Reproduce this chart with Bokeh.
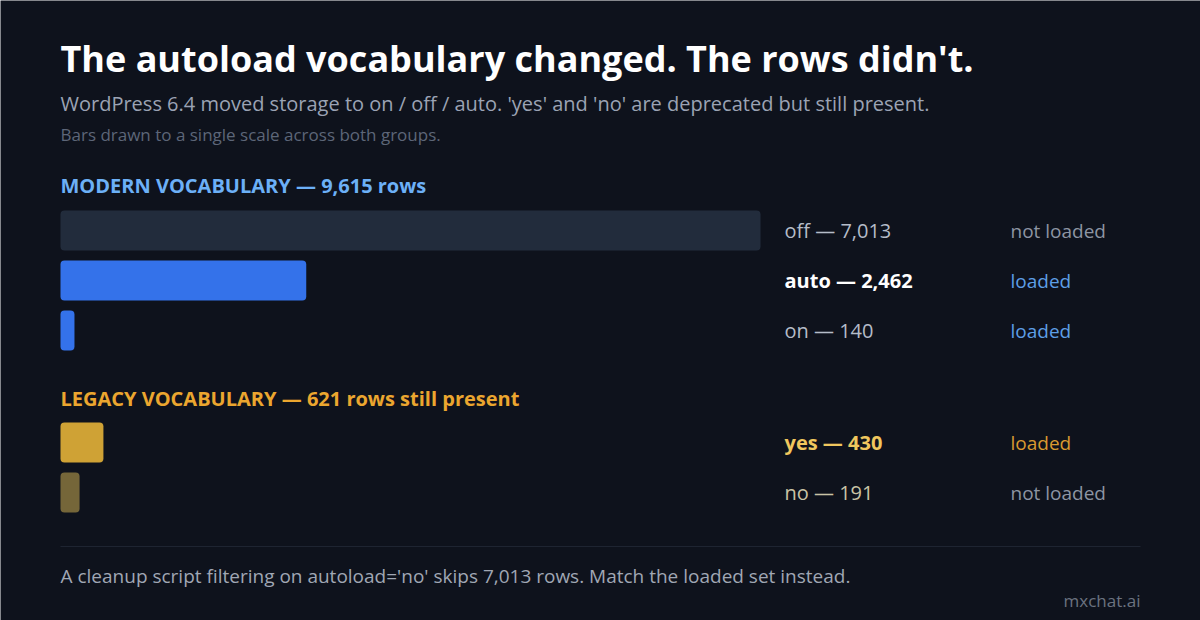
from bokeh.plotting import figure
from bokeh.models import Range1d, ColumnDataSource
from bokeh.core.properties import value
from bokeh.embed import file_html
from bokeh.resources import INLINE

# data
modern_keys = ["off", "auto", "on"]
modern_rows = [7013, 2462, 140]
modern_status = ["not loaded", "loaded", "loaded"]
legacy_keys = ["yes", "no"]
legacy_rows = [430, 191]
legacy_status = ["loaded", "not loaded"]

title = "The autoload vocabulary changed. The rows didn't."
subtitle = "WordPress 6.4 moved storage to on / off / auto. 'yes' and 'no' are deprecated but still present."
note = "Bars drawn to a single scale across both groups."
footer = "A cleanup script filtering on autoload='no' skips 7,013 rows. Match the loaded set instead."
credit = "mxchat.ai"

FONT = "Open Sans"
BG = "#0e121c"

W, H = 1200, 620
p = figure(width=W, height=H, output_backend="svg", toolbar_location=None,
           x_range=Range1d(0, W), y_range=Range1d(H, 0),
           min_border=0, border_fill_color=BG, background_fill_color=BG,
           outline_line_color=None)
p.axis.visible = False
p.grid.visible = False

# bar scale: 0 rows at px 60, max rows at px 760
bar_left, bar_right = 60, 760
vmax = max(modern_rows + legacy_rows)
k = (bar_right - bar_left) / vmax
p.extra_x_ranges = {"rows": Range1d(-bar_left / k, (W - bar_left) / k)}


def txt(x, y, s, size, color, bold=False, align="left"):
    p.text(x=[x], y=[y], text=[s], text_font=value(FONT), text_font_size=f"{size}px",
           text_color=color, text_font_style="bold" if bold else "normal",
           text_align=align, text_baseline="middle")


txt(60, 58, title, 36, "#ffffff", bold=True)
txt(60, 103, subtitle, 20, "#9ba3b4")
txt(60, 133.5, note, 17, "#5d6678")


def group(header, header_color, y_head, keys, rows, status, bar_colors,
          label_colors, label_bold, status_colors, y0):
    txt(60, y_head, header, 20, header_color, bold=True)
    ys = [y0 + 50 * i for i in range(len(keys))]
    src = ColumnDataSource(dict(y=ys, right=rows, color=bar_colors))
    p.hbar(y="y", left=0, right="right", height=40, fill_color="color",
           line_color=None, border_radius=4, source=src, x_range_name="rows")
    for yy, key, n, st, lc, lb, sc in zip(ys, keys, rows, status, label_colors,
                                           label_bold, status_colors):
        txt(784, yy, f"{key} \u2014 {n:,}", 20, lc, bold=lb)
        txt(1010, yy, st, 19, sc)


group(f"MODERN VOCABULARY \u2014 {sum(modern_rows):,} rows", "#6cb0f7", 184.5,
      modern_keys, modern_rows, modern_status,
      ["#222c3c", "#3472ea", "#3472ea"],
      ["#b5bcc8", "#ffffff", "#b5bcc8"], [False, True, False],
      ["#8d95a3", "#5d9fe6", "#5d9fe6"], 230)

group(f"LEGACY VOCABULARY \u2014 {sum(legacy_rows):,} rows still present", "#eba62f", 397.5,
      legacy_keys, legacy_rows, legacy_status,
      ["#cfa235", "#756639"],
      ["#f0c75e", "#c9c3a5"], [True, False],
      ["#d99a30", "#8d95a3"], 442)

p.segment(x0=[60], y0=[546], x1=[1140], y1=[546], line_color="#1e2431", line_width=1)
txt(60, 575, footer, 19, "#a0a7b4")
txt(1140, 600, credit, 17, "#6b7280", align="right")

open("out.html", "w").write(file_html(p, INLINE))
